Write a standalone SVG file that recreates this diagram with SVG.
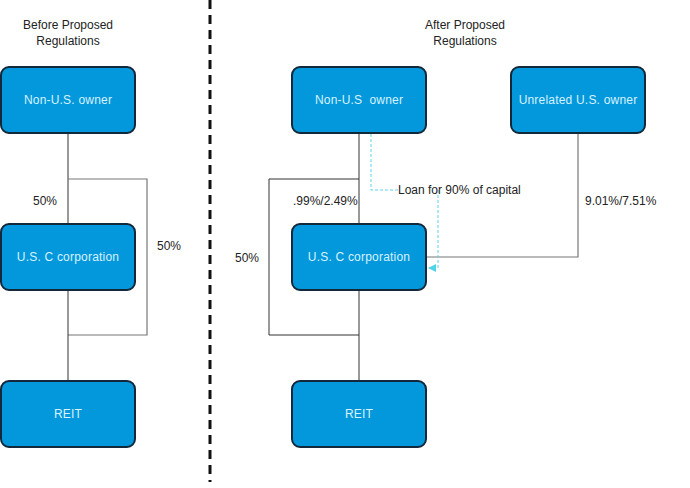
<svg xmlns="http://www.w3.org/2000/svg" width="690" height="488" viewBox="0 0 690 488">
<style>
.box{fill:#0398db;stroke:#13283b;stroke-width:2}
.bt{font-family:"Liberation Sans",Arial,sans-serif;font-size:12px;fill:#d8f2ff;text-anchor:middle;letter-spacing:0.2px}
.t{font-family:"Liberation Sans",Arial,sans-serif;font-size:12px;fill:#222}
.c{fill:none;stroke:#333;stroke-width:1}
.g{fill:none;stroke:#777;stroke-width:1.2}
</style>
<defs>
<marker id="ah" markerWidth="8" markerHeight="8" refX="7" refY="4" orient="auto" markerUnits="userSpaceOnUse">
<path d="M0,0 L8,4 L0,8 Z" fill="#4fd3e6"/>
</marker>
</defs>
<rect width="690" height="488" fill="#fff"/>
<line x1="210" y1="0" x2="210" y2="482" stroke="#111" stroke-width="3" stroke-dasharray="9,6"/>
<text class="t" x="68" y="29" text-anchor="middle">Before Proposed</text>
<text class="t" x="68" y="45" text-anchor="middle">Regulations</text>
<text class="t" x="465" y="29" text-anchor="middle">After Proposed</text>
<text class="t" x="465" y="45" text-anchor="middle">Regulations</text>
<g id="connectors">
<path class="c" d="M68,133 V224"/>
<path class="g" d="M68,179 H147 V335 H68"/>
<path class="c" d="M68,290 V381"/>
<path class="c" d="M359,133 V224"/>
<path class="c" d="M359,179 H269 V335 H359"/>
<path class="c" d="M359,290 V381"/>
<path class="g" d="M578,133 V257 H427"/>
<path d="M371,134 V190 H398" fill="none" stroke="#5fd4e8" stroke-width="1" stroke-dasharray="3,2"/>
<path d="M438,190 V268 H429" fill="none" stroke="#5fd4e8" stroke-width="1" stroke-dasharray="3,2" marker-end="url(#ah)"/>
<text class="t" x="33" y="205">50%</text>
<text class="t" x="157" y="250">50%</text>
<text class="t" x="293" y="205">.99%/2.49%</text>
<text class="t" x="235" y="262">50%</text>
<text class="t" x="398" y="194">Loan for 90% of capital</text>
<text class="t" x="585" y="205">9.01%/7.51%</text>
</g>
<g id="left-nonus"><rect class="box" x="1" y="67" width="134" height="66" rx="8"/><text class="bt" x="68" y="104">Non-U.S. owner</text></g>
<g id="left-corp"><rect class="box" x="1" y="224" width="134" height="66" rx="8"/><text class="bt" x="68" y="261">U.S. C corporation</text></g>
<g id="left-reit"><rect class="box" x="1" y="381" width="134" height="66" rx="8"/><text class="bt" x="68" y="418">REIT</text></g>
<g id="right-nonus"><rect class="box" x="292" y="67" width="134" height="66" rx="8"/><text class="bt" x="359" y="104">Non-U.S&#160; owner</text></g>
<g id="right-unrelated"><rect class="box" x="511" y="67" width="134" height="66" rx="8"/><text class="bt" x="578" y="104">Unrelated U.S. owner</text></g>
<g id="right-corp"><rect class="box" x="292" y="224" width="134" height="66" rx="8"/><text class="bt" x="359" y="261">U.S. C corporation</text></g>
<g id="right-reit"><rect class="box" x="292" y="381" width="134" height="66" rx="8"/><text class="bt" x="359" y="418">REIT</text></g>
</svg>
